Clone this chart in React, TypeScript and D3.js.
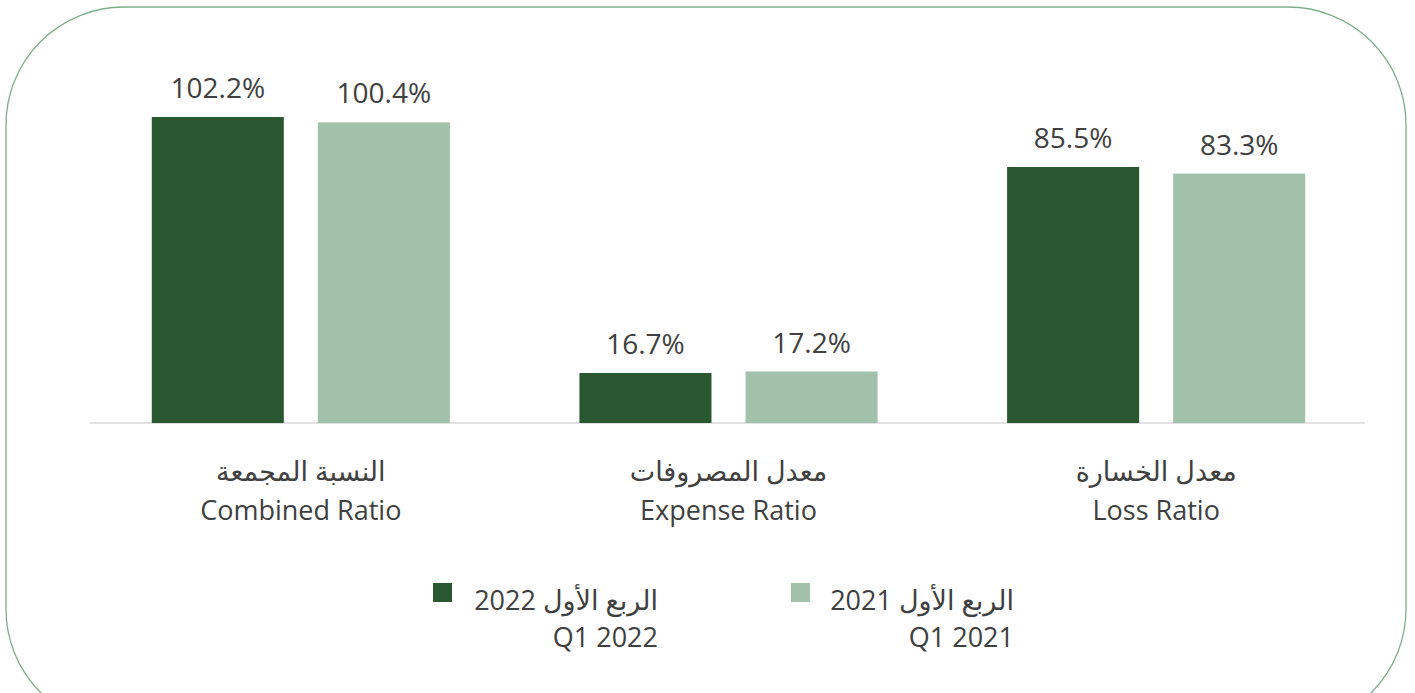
import React from "react";
import * as d3 from "d3";

const categories = ["Combined Ratio", "Expense Ratio", "Loss Ratio"];
const categoriesAr = ["النسبة المجمعة", "معدل المصروفات", "معدل الخسارة"];
const seriesNames = ["Q1 2022", "Q1 2021"];
const seriesNamesAr = ["الربع الأول 2022", "الربع الأول 2021"];
const q1_2022 = [102.2, 16.7, 85.5];
const q1_2021 = [100.4, 17.2, 83.3];
const colors = ["#295830", "#a2c1aa"];

const W = 1415;
const H = 693;
const FONT = "'Open Sans', 'DejaVu Sans', sans-serif";

export default function App() {
  const x0 = d3.scaleBand<string>().domain(categories).range([87, 1370]).padding(0);
  const x1 = d3
    .scaleBand<string>()
    .domain(seriesNames)
    .range([0, x0.bandwidth()])
    .paddingInner(0.205)
    .paddingOuter(0.39);
  const y = d3.scaleLinear().domain([0, 102.2]).range([423, 117]);
  const series = [q1_2022, q1_2021];

  const legendRight = [658, 1014];
  const legendSquareX = [433, 791];

  return (
    <svg
      width={W}
      height={H}
      style={{ position: "absolute", left: 0, top: 0, background: "#fff" }}
      fontFamily={FONT}
    >
      <rect x={6} y={7} width={1400} height={720} rx={118} ry={118} fill="none" stroke="#7fae8c" strokeWidth={1.3} />
      <line x1={90} x2={1365} y1={y(0)} y2={y(0)} stroke="#d9d9d9" strokeWidth={1.5} />
      {categories.map((c, ci) => (
        <g key={c} transform={`translate(${x0(c)},0)`}>
          {seriesNames.map((s, si) => {
            const v = series[si][ci];
            const bx = x1(s)!;
            return (
              <g key={s}>
                <rect x={bx} y={y(v)} width={x1.bandwidth()} height={y(0) - y(v)} fill={colors[si]} />
                <text
                  x={bx + x1.bandwidth() / 2}
                  y={y(v) - 19}
                  textAnchor="middle"
                  fontSize={28}
                  fill="#404040"
                >
                  {v.toFixed(1)}%
                </text>
              </g>
            );
          })}
          <text x={x0.bandwidth() / 2} y={481} textAnchor="middle" fontSize={27} fill="#404040">
            {categoriesAr[ci]}
          </text>
          <text x={x0.bandwidth() / 2} y={520} textAnchor="middle" fontSize={27} fill="#404040">
            {c}
          </text>
        </g>
      ))}
      {seriesNames.map((s, si) => (
        <g key={s}>
          <rect x={legendSquareX[si]} y={583} width={19} height={19} fill={colors[si]} />
          <text x={legendRight[si]} y={610} direction="rtl" textAnchor="start" fontSize={27} fill="#404040">
            {seriesNamesAr[si]}
          </text>
          <text x={legendRight[si]} y={647} textAnchor="end" fontSize={27} fill="#404040">
            {s}
          </text>
        </g>
      ))}
    </svg>
  );
}
